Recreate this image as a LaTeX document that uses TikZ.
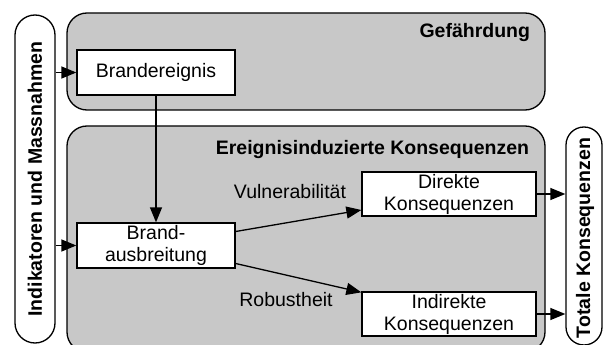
\documentclass[tikz,border=0pt]{standalone}
\usepackage{fontspec}
\setmainfont{Liberation Sans}
\usetikzlibrary{arrows.meta}
\definecolor{boxgray}{RGB}{200,200,200}
\begin{document}
\begin{tikzpicture}[x=1pt,y=-1pt,
  line width=1.3pt,
  txt/.style={font=\fontsize{19.5}{22}\selectfont},
  btxt/.style={font=\bfseries\fontsize{19.5}{22}\selectfont},
  bigbox/.style={draw, fill=boxgray, rounded corners=20pt, minimum width=478pt, inner sep=0pt},
  whitebox/.style={draw, fill=white, align=center, inner sep=0pt, txt},
  pill/.style={draw, fill=white, inner sep=0pt},
  arr/.style={-{Triangle[length=15pt,width=12pt]}}]
\clip (0,0) rectangle (606,345);
\fill[white] (0,0) rectangle (606,345);
% big boxes
\node[bigbox, minimum height=97pt] (gef) at (306,61.5) {};
\node[bigbox, minimum height=226pt] (ere) at (306,239) {};
\node[btxt, anchor=east] (gefl) at (534,33) {Gefährdung};
\node[btxt, anchor=east] (erel) at (533,150) {Ereignisinduzierte Konsequenzen};
% pills
\node[pill, rounded corners=20pt, minimum width=40pt, minimum height=328pt] (lp) at (35,179) {};
\node[btxt, rotate=90] (lpl) at (35,179) {Indikatoren und Massnahmen};
\node[pill, rounded corners=18pt, minimum width=36pt, minimum height=218pt] (rp) at (584,236) {};
\node[btxt, rotate=90] (rpl) at (585,238) {Totale Konsequenzen};
% white boxes
\node[whitebox, minimum width=158pt, minimum height=45pt] (be) at (156,72.5) {Brandereignis};
\node[whitebox, minimum width=158pt, minimum height=45pt] (ba) at (156,245.5) {Brand-\\ausbreitung};
\node[whitebox, minimum width=174pt, minimum height=44pt] (di) at (449,194) {Direkte\\Konsequenzen};
\node[whitebox, minimum width=174pt, minimum height=44pt] (in) at (449,314) {Indirekte\\Konsequenzen};
% labels
\node[txt] (vl) at (290,192) {Vulnerabilität};
\node[txt] (rl) at (286,300) {Robustheit};
% arrows
\draw[arr] (lp.east |- be.west) -- (be.west);
\draw[arr] (lp.east |- ba.west) -- (ba.west);
\draw[arr] (be.south) -- (ba.north);
\draw[arr] ([yshift=14pt]ba.east) -- ([yshift=-16pt]di.west);
\draw[arr] ([yshift=-18pt]ba.east) -- ([yshift=-1pt]in.north west);
\draw[arr] (di.east) -- (di.east -| rp.west);
\draw[arr] (in.east) -- (in.east -| rp.west);
\end{tikzpicture}
\end{document}
